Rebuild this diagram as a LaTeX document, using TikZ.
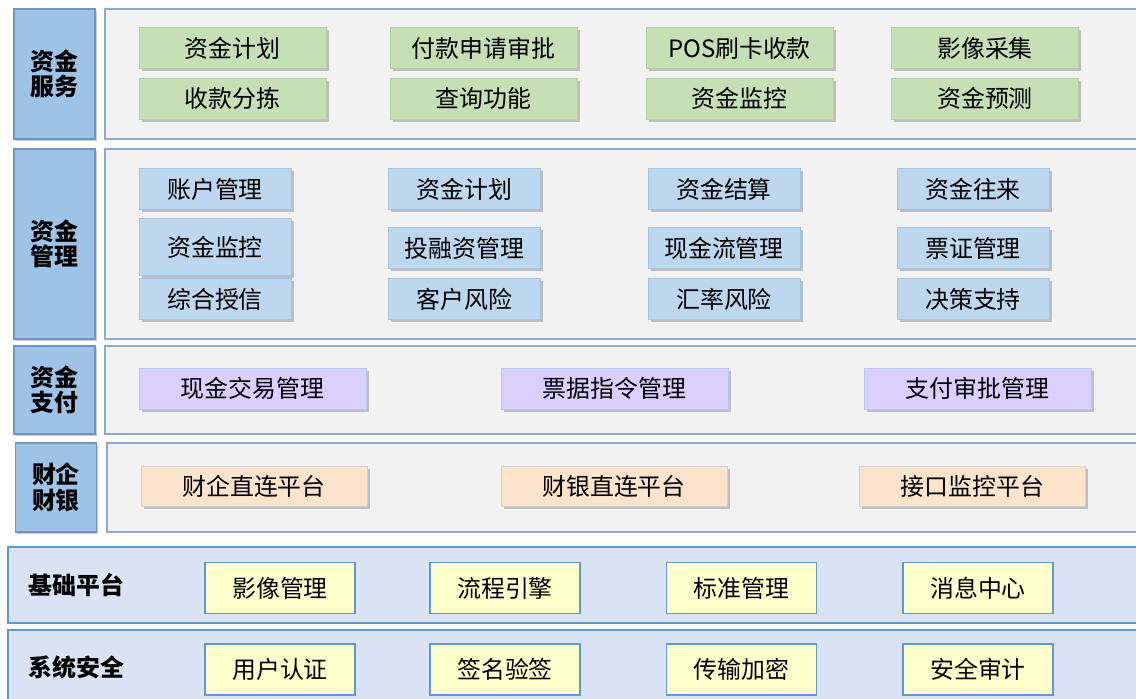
\documentclass[tikz,border=0pt]{standalone}
\usepackage{fontspec}
\setmainfont{Noto Sans CJK SC}
\usepackage{tikz}
\usetikzlibrary{positioning, shadows}

\definecolor{tagblue}{RGB}{157,195,230}
\definecolor{tagline}{RGB}{112,148,198}
\definecolor{panelgray}{RGB}{242,242,242}
\definecolor{panelline}{RGB}{143,170,204}
\definecolor{srvgreen}{RGB}{197,224,180}
\definecolor{srvline}{RGB}{178,208,160}
\definecolor{mgtblue}{RGB}{189,215,238}
\definecolor{mgtline}{RGB}{165,196,228}
\definecolor{paypurple}{RGB}{218,208,255}
\definecolor{payline}{RGB}{185,200,235}
\definecolor{bankorange}{RGB}{252,228,204}
\definecolor{bankline}{RGB}{200,210,225}
\definecolor{baseblue}{RGB}{218,227,243}
\definecolor{baseline}{RGB}{91,155,213}
\definecolor{baseyellow}{RGB}{255,255,204}

\begin{document}
\begin{tikzpicture}[x=0.02cm, y=-0.02cm, on grid,
    every node/.style={font=\fontsize{13.6}{15}\selectfont, inner sep=0pt},
    layer/.style={draw=panelline, line width=0.9pt, fill=panelgray},
    baselayer/.style={draw=baseline, line width=1.4pt, fill=baseblue},
    tag/.style={draw=tagline, line width=0.6pt, fill=tagblue, minimum width=1.62cm,
        align=center, font=\fontsize{13.6}{14.4}\selectfont\bfseries,
        drop shadow={shadow xshift=1pt, shadow yshift=-1pt, opacity=0.4}},
    box/.style={line width=0.5pt, minimum height=0.82cm,
        drop shadow={shadow xshift=1.6pt, shadow yshift=-1.6pt, opacity=0.45}},
    srv/.style={box, fill=srvgreen, draw=srvline, minimum width=3.74cm},
    mgt/.style={box, fill=mgtblue, draw=mgtline, minimum width=3.04cm},
    pay/.style={box, fill=paypurple, draw=payline, minimum width=4.54cm},
    bank/.style={box, fill=bankorange, draw=bankline, minimum width=4.52cm, minimum height=0.8cm},
    base/.style={draw=baseline, line width=1pt, fill=baseyellow, minimum width=3cm, minimum height=1.02cm},
    baselabel/.style={anchor=west, font=\fontsize{13.6}{15}\selectfont\bfseries}]
        \path[use as bounding box, clip] (0,0) rectangle (1136,699);
        % Define the layers
        \draw[layer] (105,9) rectangle (1150,139);
        \draw[layer] (105,149) rectangle (1150,339);
        \draw[layer] (105,346) rectangle (1150,434);
        \draw[layer] (107,443) rectangle (1150,532);
        \draw[baselayer] (8,547) rectangle (1150,623);
        \draw[baselayer] (8,630) rectangle (1150,720);
        % Define the layer tags
        \node[tag, minimum height=2.6cm] (srv_tag) at (54.5,74) {资金\\服务};
        \node[tag, minimum height=3.8cm] (mgt_tag) at (54.5,244) {资金\\管理};
        \node[tag, minimum height=1.76cm] (pay_tag) at (54.5,390) {资金\\支付};
        \node[tag, minimum height=1.78cm] (bank_tag) at (56,487.5) {财企\\财银};
        \node[baselabel] (base_tag) at (28,585) {基础平台};
        \node[baselabel] (sec_tag) at (28,667) {系统安全};
        % Define the service nodes
        \node[srv] (srv_1) at (232.5,48) {资金计划};
        \node[srv] (srv_2) at (483.5,48) {付款申请审批};
        \node[srv] (srv_3) at (739.5,48) {POS刷卡收款};
        \node[srv] (srv_4) at (985,48) {影像采集};
        \node[srv] (srv_5) [below=1.01cm of srv_1] {收款分拣};
        \node[srv] (srv_6) [below=1.01cm of srv_2] {查询功能};
        \node[srv] (srv_7) [below=1.01cm of srv_3] {资金监控};
        \node[srv] (srv_8) [below=1.01cm of srv_4] {资金预测};
        % Define the management nodes
        \node[mgt] (mgt_1) at (215,189) {账户管理};
        \node[mgt] (mgt_2) at (464.5,189) {资金计划};
        \node[mgt] (mgt_3) at (724,189) {资金结算};
        \node[mgt] (mgt_4) at (973,189) {资金往来};
        \node[mgt, minimum height=1.14cm] (mgt_5) [below=1.16cm of mgt_1] {资金监控};
        \node[mgt] (mgt_6) [below=1.18cm of mgt_2] {投融资管理};
        \node[mgt] (mgt_7) [below=1.18cm of mgt_3] {现金流管理};
        \node[mgt] (mgt_8) [below=1.18cm of mgt_4] {票证管理};
        \node[mgt] (mgt_9) at (215,299) {综合授信};
        \node[mgt] (mgt_10) [below=1.02cm of mgt_6] {客户风险};
        \node[mgt] (mgt_11) [below=1.02cm of mgt_7] {汇率风险};
        \node[mgt] (mgt_12) [below=1.02cm of mgt_8] {决策支持};
        % Define the payment nodes
        \node[pay] (pay_1) at (252.5,388.5) {现金交易管理};
        \node[pay] (pay_2) at (614.5,388.5) {票据指令管理};
        \node[pay] (pay_3) at (977.5,388.5) {支付审批管理};
        % Define the bank nodes
        \node[bank] (bank_1) at (254,486) {财企直连平台};
        \node[bank] (bank_2) at (614,486) {财银直连平台};
        \node[bank] (bank_3) at (972.5,486) {接口监控平台};
        % Define the base nodes
        \node[base] (base_1) at (280,588) {影像管理};
        \node[base] (base_2) at (505,588) {流程引擎};
        \node[base] (base_3) at (741.5,588) {标准管理};
        \node[base] (base_4) at (978,588) {消息中心};
        \node[base] (sec_1) [below=1.63cm of base_1] {用户认证};
        \node[base] (sec_2) [below=1.63cm of base_2] {签名验签};
        \node[base] (sec_3) [below=1.63cm of base_3] {传输加密};
        \node[base] (sec_4) [below=1.63cm of base_4] {安全审计};
    \end{tikzpicture}
\end{document}
